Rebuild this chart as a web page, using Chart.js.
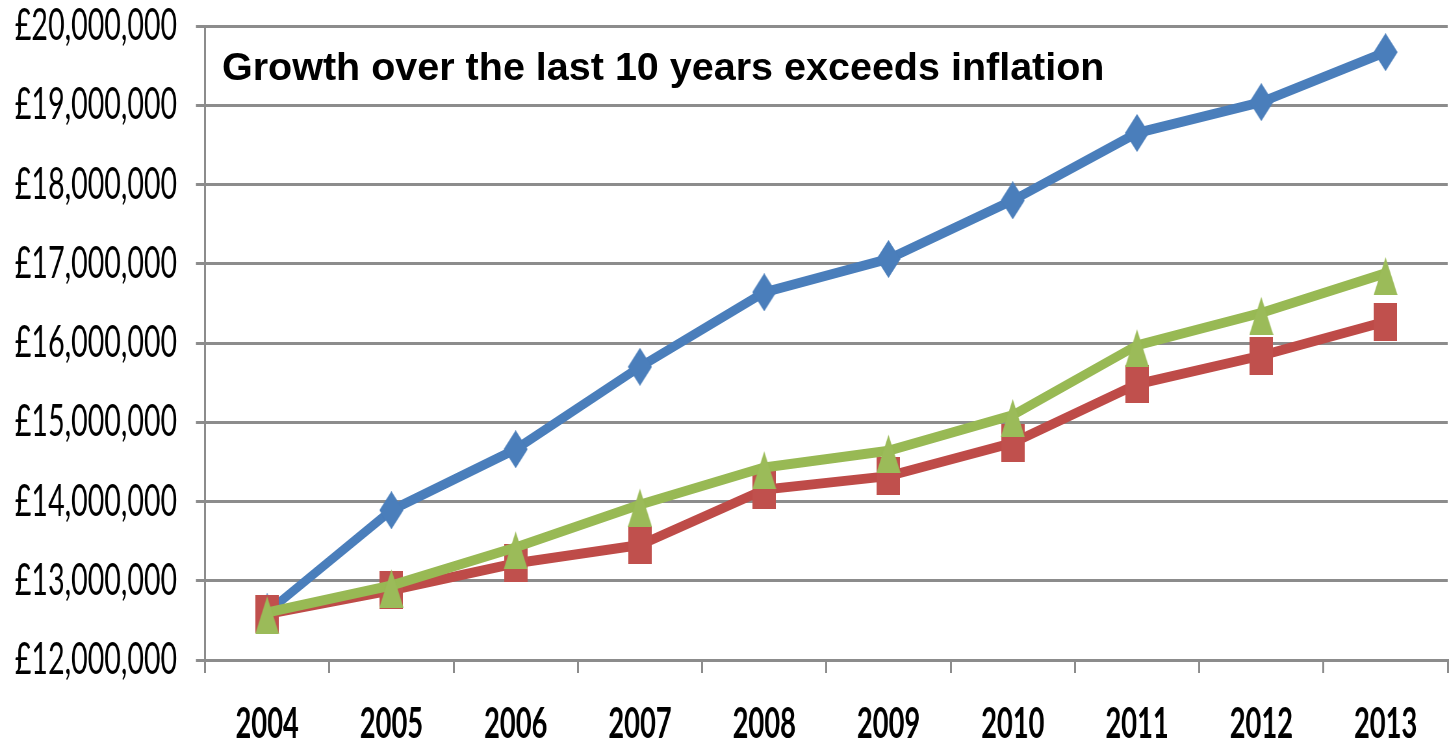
<!DOCTYPE html>
<html><head><meta charset="utf-8">
<script src="https://cdn.jsdelivr.net/npm/chart.js@4.4.0/dist/chart.umd.min.js"></script>
<style>
html,body{margin:0;padding:0;background:#fff;overflow:hidden;width:1449px;height:742px;}
#wrap{position:absolute;left:0;top:0;width:2230px;height:742px;transform:scaleX(0.649776);transform-origin:0 0;}
#c{display:block;width:2230px;height:742px;}
#note{position:absolute;left:222px;top:47px;font:bold 39.5px "Liberation Sans",Arial,sans-serif;line-height:39px;color:#000;white-space:nowrap;}
</style></head>
<body>
<div id="wrap"><canvas id="c" width="2230" height="742"></canvas></div>
<div id="note">Growth over the last 10 years exceeds inflation</div>
<script>
// ---- data ----
const years = ['2004','2005','2006','2007','2008','2009','2010','2011','2012','2013'];
const seriesBlue  = [12600000,13890000,14660000,15700000,16640000,17060000,17800000,18650000,19040000,19670000];
const seriesRed   = [12580000,12880000,13220000,13450000,14150000,14320000,14740000,15480000,15840000,16270000];
const seriesGreen = [12600000,12940000,13420000,13960000,14430000,14640000,15090000,15970000,16380000,16880000];
const yTickValues = [12000000,13000000,14000000,15000000,16000000,17000000,18000000,19000000,20000000];
const yTickLabels = ['£12,000,000','£13,000,000','£14,000,000','£15,000,000','£16,000,000','£17,000,000','£18,000,000','£19,000,000','£20,000,000'];

// ---- marker images ----
function makeMarker(w, h, color, draw) {
  const c = document.createElement('canvas');
  c.width = w; c.height = h;
  const g = c.getContext('2d');
  g.fillStyle = color;
  draw(g, w, h);
  return c;
}
const diamond = makeMarker(37, 38, '#4a7ebb', (g, w, h) => {
  g.beginPath(); g.moveTo(w/2, 0); g.lineTo(w, h/2); g.lineTo(w/2, h); g.lineTo(0, h/2); g.closePath(); g.fill();
});
const square = makeMarker(36, 38, '#c0504d', (g, w, h) => { g.fillRect(0, 0, w, h); });
const triangle = makeMarker(37, 44, '#9bbb59', (g, w, h) => {
  g.beginPath(); g.moveTo(w/2, 6); g.lineTo(w, h); g.lineTo(0, h); g.closePath(); g.fill();
});

const grey = '#8c8c8c';
new Chart(document.getElementById('c'), {
  type: 'line',
  data: {
    labels: years,
    datasets: [
      { label: 'Series 1', data: seriesBlue, borderColor: '#4a7ebb', backgroundColor: '#4a7ebb', borderWidth: 10, pointStyle: diamond, pointRadius: 18, order: 3, tension: 0, fill: false },
      { label: 'Series 2', data: seriesRed, borderColor: '#be4b48', backgroundColor: '#be4b48', borderWidth: 10, pointStyle: square, pointRadius: 18, order: 2, tension: 0, fill: false },
      { label: 'Series 3', data: seriesGreen, borderColor: '#98b954', backgroundColor: '#98b954', borderWidth: 10, pointStyle: triangle, pointRadius: 18, order: 1, tension: 0, fill: false }
    ]
  },
  options: {
    responsive: false, maintainAspectRatio: false, animation: false, devicePixelRatio: 1,
    layout: { autoPadding: false, padding: { top: 26, right: 2, left: 0, bottom: 0 } },
    plugins: { legend: { display: false }, tooltip: { enabled: false }, title: { display: false } },
    events: [],
    scales: {
      x: {
        offset: true,
        grid: { offset: true, drawOnChartArea: false, drawTicks: true, tickLength: 13, color: grey, lineWidth: 3 },
        border: { display: true, color: grey, width: 3 },
        ticks: { font: { family: 'Lato', weight: 'bold', size: 42 }, color: '#000', padding: 26, maxRotation: 0, autoSkip: false },
        afterFit(s) { s.height = 82; s.paddingLeft = 0; s.paddingRight = 0; }
      },
      y: {
        min: 12000000, max: 20000000,
        ticks: {
          stepSize: 1000000,
          callback: (v) => { const i = yTickValues.indexOf(v); return i >= 0 ? yTickLabels[i] : ''; },
          font: { family: 'Lato', size: 44 }, color: '#000', padding: 29
        },
        grid: { color: grey, lineWidth: 3, tickLength: 14 },
        border: { display: true, color: grey, width: 3 },
        afterFit(s) { s.width = 315.5; s.paddingTop = 0; s.paddingBottom = 0; }
      }
    }
  }
});
</script>
</body></html>
